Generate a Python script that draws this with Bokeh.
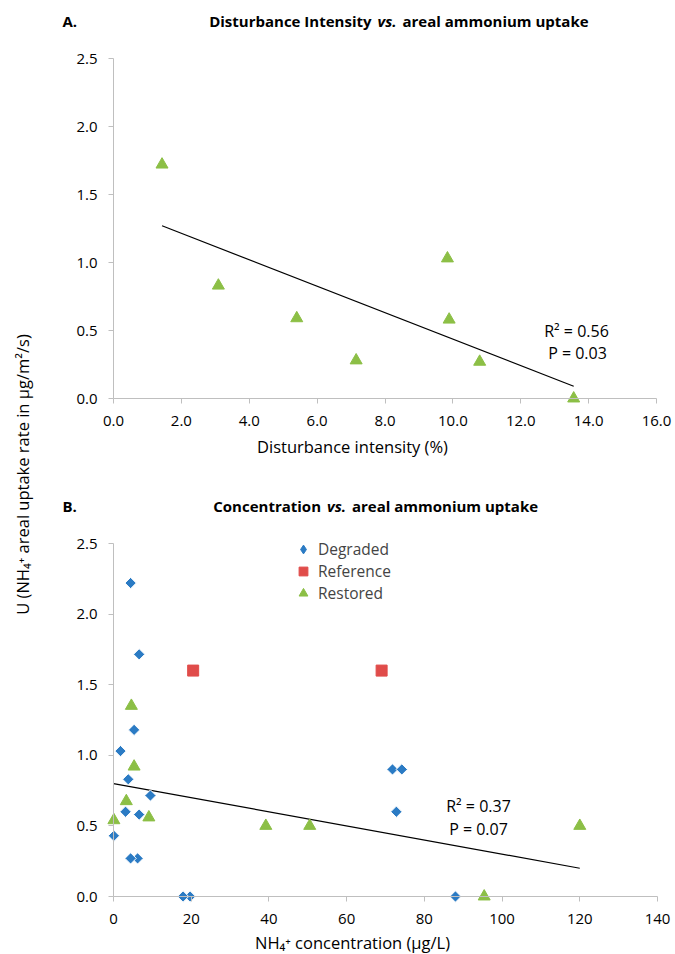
import numpy as np
from bokeh.plotting import figure
from bokeh.layouts import row, column
from bokeh.models import (Range1d, FixedTicker, CustomJSTickFormatter, Label,
                          Legend, LegendItem)
from bokeh.core.properties import value
from bokeh.embed import file_html
from bokeh.resources import INLINE

# ---------------- data ----------------
# Panel A: disturbance intensity (%) vs areal uptake (Restored sites)
dist_x = [1.43, 3.09, 5.40, 7.15, 9.84, 9.89, 10.79, 13.56]
dist_y = [1.72, 0.83, 0.59, 0.28, 1.03, 0.58, 0.27, 0.00]
trendA_x = [1.43, 13.56]
trendA_y = [1.27, 0.09]

# Panel B: NH4+ concentration vs areal uptake
degraded_x = [6.2, 19.7, 4.4, 6.6, 5.3, 1.8, 3.8, 9.5, 3.1, 6.6, 0.1, 4.4, 17.9, 71.8, 74.2, 72.8, 88.0]
degraded_y = [0.27, 0.00, 2.22, 1.715, 1.18, 1.03, 0.83, 0.715, 0.60, 0.58, 0.43, 0.27, 0.00, 0.90, 0.90, 0.60, 0.00]
reference_x = [20.5, 69.0]
reference_y = [1.60, 1.60]
restored_x = [4.6, 5.3, 3.3, 0.1, 9.1, 39.2, 50.5, 120.0, 95.4]
restored_y = [1.35, 0.92, 0.675, 0.54, 0.56, 0.50, 0.50, 0.50, 0.00]
trendB_x = [0, 120]
trendB_y = [0.80, 0.20]

yticks = [0, 0.5, 1.0, 1.5, 2.0, 2.5]
xticksA = [0, 2, 4, 6, 8, 10, 12, 14, 16]
xticksB = [0, 20, 40, 60, 80, 100, 120, 140]
ytick_labels = ["0.0", "0.5", "1.0", "1.5", "2.0", "2.5"]
xtick_labelsA = ["0.0", "2.0", "4.0", "6.0", "8.0", "10.0", "12.0", "14.0", "16.0"]
xtick_labelsB = ["0", "20", "40", "60", "80", "100", "120", "140"]

BLUE = "#2B7BC4"
RED = "#E04C4A"
GREEN = "#8CBF46"
AXIS = "#BFBFBF"
FONT = "Open Sans"


class Panel:
    """Page-pixel geometry of one panel: the frame covers the whole figure."""
    def __init__(self, left, top, width, height, x0px, xpu, y0px, ypu):
        self.left, self.top, self.width, self.height = left, top, width, height
        self.x0px, self.xpu, self.y0px, self.ypu = x0px, xpu, y0px, ypu

    def dx(self, px):
        return (px - self.x0px) / self.xpu

    def dy(self, py):
        return (self.y0px - py) / self.ypu

    def make(self, xmax):
        p = figure(width=self.width, height=self.height,
                   x_range=Range1d(self.dx(self.left), self.dx(self.left + self.width)),
                   y_range=Range1d(self.dy(self.top + self.height), self.dy(self.top)),
                   x_axis_location="above", y_axis_location="right",
                   toolbar_location=None, output_backend="svg", min_border=0)
        p.grid.visible = False
        p.outline_line_color = None
        for ax in (p.xaxis[0], p.yaxis[0]):
            ax.fixed_location = 0
            ax.axis_line_color = AXIS
            ax.major_tick_line_color = AXIS
            ax.minor_tick_line_color = None
            ax.major_tick_in = 5
            ax.major_tick_out = 0
            ax.major_label_standoff = 0
            ax.major_label_text_font_size = "0px"
            ax.formatter = CustomJSTickFormatter(code="return ''")
        p.xaxis.bounds = (0, xmax)
        p.yaxis.bounds = (0, 2.5)
        return p


def txt(p, x, y, text, size="16px", style="normal", align="left", baseline="middle", angle=0):
    p.add_layout(Label(x=x, y=y, text=text, text_align=align, text_baseline=baseline,
                       text_font=FONT, text_font_size=size, text_font_style=style,
                       angle=angle, angle_units="deg", text_color="black"))


def tick_texts(p, g, xticks, xlabels):
    p.text(x=xticks, y=[g.dy(g.y0px + 22)] * len(xticks), text=xlabels,
           text_align="center", text_baseline="middle", text_font=value(FONT),
           text_font_size="15px", text_color="black")
    p.text(x=[g.dx(97)] * len(yticks), y=yticks, text=ytick_labels,
           text_align="right", text_baseline="middle", text_font=value(FONT),
           text_font_size="15px", text_color="black")


def title_parts(p, g, py, letter, left, vs_center, right):
    y = g.dy(py)
    txt(p, g.dx(62), y, letter, size="15px", style="bold")
    txt(p, g.dx(vs_center - 15.5), y, left, size="15px", style="bold", align="right")
    txt(p, g.dx(vs_center), y, "vs.", size="15px", style="bold italic", align="center")
    txt(p, g.dx(vs_center + 15.5), y, right, size="15px", style="bold")


# ---------------- y label strip ----------------
pl = figure(width=40, height=954, x_range=Range1d(0, 40), y_range=Range1d(954, 0),
            toolbar_location=None, output_backend="svg", x_axis_type=None, y_axis_type=None,
            min_border=0, outline_line_color=None)
pl.grid.visible = False
txt(pl, 22, 474, "U (NH\u2084\u207A areal uptake rate in \u00B5g/m\u00B2/s)",
    size="16.5px", align="center", angle=90)

# ---------------- panel A ----------------
gA = Panel(left=40, top=0, width=635, height=470, x0px=113, xpu=543 / 16, y0px=398, ypu=340 / 2.5)
pA = gA.make(16)
pA.xaxis.ticker = FixedTicker(ticks=xticksA)
pA.yaxis.ticker = FixedTicker(ticks=yticks)
tick_texts(pA, gA, xticksA, xtick_labelsA)

pA.line(trendA_x, trendA_y, line_color="black", line_width=1.2)
pA.scatter(dist_x, dist_y, marker="triangle", size=12, fill_color=GREEN, line_color=GREEN)

title_parts(pA, gA, 20, "A.", "Disturbance Intensity", 386.5, "areal ammonium uptake")
txt(pA, gA.dx(576), gA.dy(330), "R\u00B2 = 0.56", align="center")
txt(pA, gA.dx(577), gA.dy(352), "P = 0.03", align="center")
txt(pA, gA.dx(352), gA.dy(446), "Disturbance intensity (%)", size="16.5px", align="center")

# ---------------- panel B ----------------
gB = Panel(left=40, top=470, width=635, height=484, x0px=113, xpu=544 / 140, y0px=896, ypu=353 / 2.5)
pB = gB.make(140)
pB.xaxis.ticker = FixedTicker(ticks=xticksB)
pB.yaxis.ticker = FixedTicker(ticks=yticks)
tick_texts(pB, gB, xticksB, xtick_labelsB)

pB.line(trendB_x, trendB_y, line_color="black", line_width=1.2)
# legend swatch for Degraded (zero-size markers, only its legend glyph shows)
rD_key = pB.scatter(degraded_x, degraded_y, marker="diamond", size=0,
                    fill_color=BLUE, line_color=BLUE)
pB.scatter(degraded_x, degraded_y, marker="square", angle=np.pi / 4, size=8,
           fill_color=BLUE, line_color="white", line_width=1)
rR = pB.scatter(reference_x, reference_y, marker="square", size=11,
                fill_color=RED, line_color=RED)
rS = pB.scatter(restored_x, restored_y, marker="triangle", size=12,
                fill_color=GREEN, line_color=GREEN)

legend = Legend(items=[LegendItem(label="Degraded", renderers=[rD_key]),
                       LegendItem(label="Reference", renderers=[rR]),
                       LegendItem(label="Restored", renderers=[rS])],
                location=(292 - gB.left, gB.top + gB.height - 604),
                padding=0, spacing=0, margin=0,
                label_height=22, glyph_height=22, glyph_width=22, label_standoff=4,
                label_text_font=FONT, label_text_font_size="15.5px",
                border_line_color=None, background_fill_alpha=0)
pB.add_layout(legend)

title_parts(pB, gB, 505, "B.", "Concentration", 336, "areal ammonium uptake")
txt(pB, gB.dx(478), gB.dy(805), "R\u00B2 = 0.37", align="center")
txt(pB, gB.dx(478), gB.dy(828), "P = 0.07", align="center")
txt(pB, gB.dx(352), gB.dy(942), "NH\u2084\u207A concentration (\u00B5g/L)", size="16.5px", align="center")

layout = row(pl, column(pA, pB, spacing=0), spacing=0)

html = file_html(layout, INLINE, "Ammonium uptake")
open("out.html", "w").write(html)
